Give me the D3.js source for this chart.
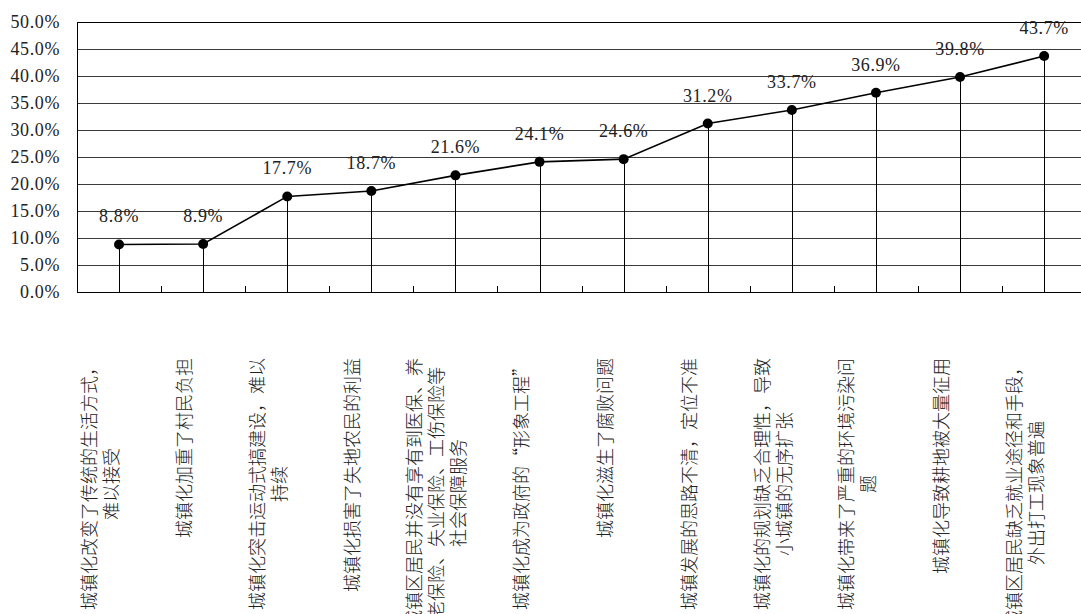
<!DOCTYPE html>
<html>
<head>
<meta charset="utf-8">
<script src="https://cdn.jsdelivr.net/npm/d3@7"></script>
<style>
    body { margin: 0; background: #fff; }
    svg { display: block; }
</style>
</head>
<body>
<div id="chart"></div>
<script>
// Category labels (already wrapped into lines as in the source chart)
const categories = [
    ["城镇化改变了传统的生活方式，", "难以接受"],
    ["城镇化加重了村民负担"],
    ["城镇化突击运动式搞建设，难以", "持续"],
    ["城镇化损害了失地农民的利益"],
    ["城镇区居民并没有享有到医保、养", "老保险、失业保险、工伤保险等", "社会保障服务"],
    ["城镇化成为政府的“形象工程”"],
    ["城镇化滋生了腐败问题"],
    ["城镇发展的思路不清，定位不准"],
    ["城镇化的规划缺乏合理性，导致", "小城镇的无序扩张"],
    ["城镇化带来了严重的环境污染问", "题"],
    ["城镇化导致耕地被大量征用"],
    ["城镇区居民缺乏就业途径和手段，", "外出打工现象普遍"]
];

// Percentages
const values = [8.8, 8.9, 17.7, 18.7, 21.6, 24.1, 24.6, 31.2, 33.7, 36.9, 39.8, 43.7];

const yTicks = [0, 5, 10, 15, 20, 25, 30, 35, 40, 45, 50];

const width = 1081;
const height = 614;
const margin = { top: 22, left: 77 };
const plotBottom = 292;
const bandWidth = 84.1;

const numFont = "'Liberation Serif', 'DejaVu Serif', serif";
const cjkFont = "'Noto Sans CJK SC', 'Noto Sans', sans-serif";

const svg = d3.select("#chart")
    .append("svg")
    .attr("width", width)
    .attr("height", height);

const idx = d3.range(values.length);

const x = d3.scaleBand()
    .domain(idx)
    .range([margin.left, margin.left + bandWidth * values.length])
    .padding(0);

const y = d3.scaleLinear()
    .domain([0, 50])
    .range([plotBottom, margin.top]);

const cx = i => x(i) + x.bandwidth() / 2;
const pct = d => d3.format(".1f")(d) + "%";

// Horizontal gridlines
svg.append("g")
    .selectAll("line")
    .data(yTicks)
    .join("line")
    .attr("x1", margin.left)
    .attr("x2", width)
    .attr("y1", d => Math.round(y(d)) + 0.5)
    .attr("y2", d => Math.round(y(d)) + 0.5)
    .attr("stroke", d => d === 50 || d === 0 ? "#000" : "#3a3a3a")
    .attr("stroke-width", 1);

// Left axis line
svg.append("line")
    .attr("x1", margin.left + 0.5)
    .attr("x2", margin.left + 0.5)
    .attr("y1", Math.round(y(50)) + 0.5)
    .attr("y2", Math.round(y(0)) + 0.5)
    .attr("stroke", "#000");

// Y tick labels
svg.append("g")
    .selectAll("text")
    .data(yTicks)
    .join("text")
    .attr("x", 60)
    .attr("y", d => y(d))
    .attr("dy", "0.36em")
    .attr("text-anchor", "end")
    .attr("font-family", numFont)
    .attr("font-size", "18px")
    .attr("letter-spacing", "0.6px")
    .attr("fill", "#222")
    .text(pct);

// Small inward ticks between categories
svg.append("g")
    .selectAll("line")
    .data(idx.slice(1))
    .join("line")
    .attr("x1", d => Math.round(x(d)) + 0.5)
    .attr("x2", d => Math.round(x(d)) + 0.5)
    .attr("y1", Math.round(y(0)))
    .attr("y2", Math.round(y(0)) - 6)
    .attr("stroke", "#000");

// Drop lines from each point to the axis
svg.append("g")
    .selectAll("line")
    .data(idx)
    .join("line")
    .attr("x1", d => Math.round(cx(d)) + 0.5)
    .attr("x2", d => Math.round(cx(d)) + 0.5)
    .attr("y1", d => y(values[d]))
    .attr("y2", y(0))
    .attr("stroke", "#000")
    .attr("stroke-width", 1);

// The line
const line = d3.line()
    .x(d => cx(d))
    .y(d => y(values[d]));

svg.append("path")
    .datum(idx)
    .attr("d", line)
    .attr("fill", "none")
    .attr("stroke", "#000")
    .attr("stroke-width", 1.6);

svg.append("g")
    .selectAll("circle")
    .data(idx)
    .join("circle")
    .attr("cx", d => cx(d))
    .attr("cy", d => y(values[d]))
    .attr("r", 5)
    .attr("fill", "#000");

// Value labels
svg.append("g")
    .selectAll("text")
    .data(idx)
    .join("text")
    .attr("x", d => cx(d))
    .attr("y", d => y(values[d]) - 22)
    .attr("text-anchor", "middle")
    .attr("font-family", numFont)
    .attr("font-size", "18px")
    .attr("letter-spacing", "0.6px")
    .attr("fill", "#222")
    .text(d => pct(values[d]));

// Rotated category labels, top-aligned under the axis, lines centred on each other
const labelTop = 358;
const lineGap = 22;

const labelGroups = svg.append("g")
    .selectAll("g")
    .data(idx)
    .join("g");

labelGroups.each(function (i) {
    const g = d3.select(this);
    const lines = categories[i];
    const texts = g.selectAll("text")
        .data(lines)
        .join("text")
        .attr("font-family", cjkFont)
        .attr("font-size", "18px")
        .attr("font-weight", 300)
        .attr("fill", "#222")
        .attr("text-anchor", "middle")
        .attr("dominant-baseline", "central")
        .text(d => d);

    const maxLen = d3.max(texts.nodes(), n => n.getComputedTextLength());
    const yc = labelTop + maxLen / 2;
    const blockCenter = cx(i) - 20;

    texts.attr("transform", (d, k) => {
        const lx = blockCenter + (k - (lines.length - 1) / 2) * lineGap;
        return `translate(${lx},${yc}) rotate(-90)`;
    });
});
</script>
</body>
</html>
